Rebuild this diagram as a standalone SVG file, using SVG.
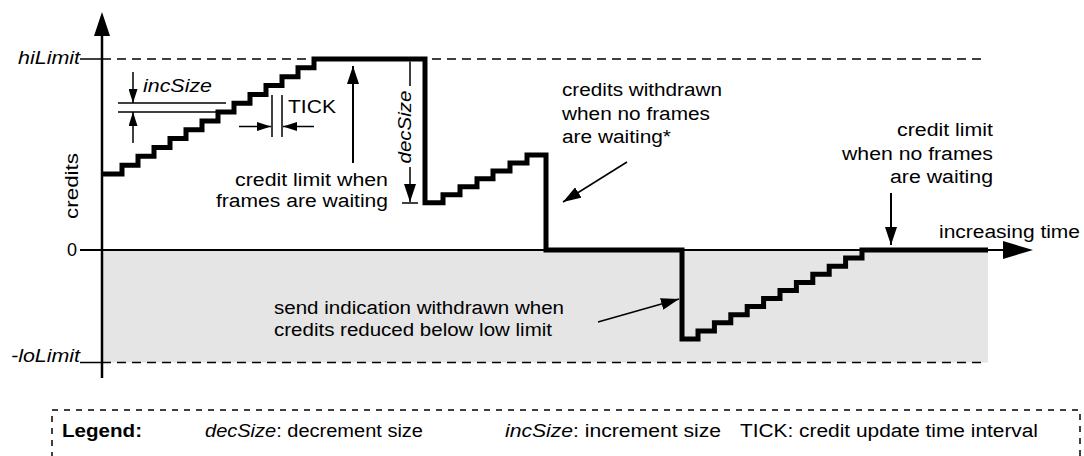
<svg xmlns="http://www.w3.org/2000/svg" width="1084" height="456" viewBox="0 0 1084 456">
<style>
text{font-family:"Liberation Sans",Arial,Helvetica,sans-serif;font-size:18px;fill:#000}
.it{font-style:italic}
.b{font-weight:bold}
.thin{stroke:#000;stroke-width:1.5;fill:none}
.ax{stroke:#000;stroke-width:2.5;fill:none}
.dash{stroke:#000;stroke-width:1.5;stroke-dasharray:9 6;fill:none}
.step{stroke:#000;stroke-width:5;fill:none;stroke-linejoin:miter;stroke-linecap:butt}
.lg{stroke:#000;stroke-width:1.5;stroke-dasharray:6 6;fill:none}
</style>
<defs>
<marker id="ah" viewBox="0 0 18 12" markerWidth="18" markerHeight="12" refX="18" refY="6" orient="auto" markerUnits="userSpaceOnUse"><path d="M0,0 L18,6 L0,12 z" fill="#000"/></marker>
<marker id="as" viewBox="0 0 14 9" markerWidth="14" markerHeight="9" refX="14" refY="4.5" orient="auto" markerUnits="userSpaceOnUse"><path d="M0,0 L14,4.5 L0,9 z" fill="#000"/></marker>
</defs>
<rect width="1084" height="456" fill="#fff"/>
<g id="negative-region"><rect x="102" y="250" width="886" height="112.5" fill="#e5e5e5"/></g>
<g id="axes">
<line class="thin" x1="80" y1="59" x2="102" y2="59"/>
<line class="dash" x1="102" y1="59" x2="986" y2="59"/>
<line class="thin" x1="80" y1="362.5" x2="102" y2="362.5"/>
<line class="dash" x1="102" y1="362.5" x2="986" y2="362.5"/>
<line class="ax" x1="80" y1="250" x2="1005" y2="250" style="stroke-width:2"/>
<polygon points="1033,250 1003,241 1003,259" fill="#000"/>
<line class="ax" x1="102" y1="34" x2="102" y2="378"/>
<polygon points="102,12 94,36 110,36" fill="#000"/>
</g>
<g id="axis-labels">
<text class="it" x="80" y="64" text-anchor="end" textLength="62" lengthAdjust="spacingAndGlyphs">hiLimit</text>
<text x="77" y="256" text-anchor="end">0</text>
<text class="it" x="80" y="362" text-anchor="end" textLength="69" lengthAdjust="spacingAndGlyphs">-loLimit</text>
<text transform="translate(78,186) rotate(-90)" text-anchor="middle" textLength="66" lengthAdjust="spacingAndGlyphs">credits</text>
<text x="939" y="238" textLength="141" lengthAdjust="spacingAndGlyphs">increasing time</text>
</g>
<g id="credit-curve">
<path class="step" d="M102,174 H122 V165.15 H138 V156.3 H154 V147.5 H170 V138.6 H186 V129.8 H202 V120.9 H218 V112.1 H234 V103.2 H250 V94.4 H266 V85.5 H282 V76.7 H298 V67.8 H314 V59 H425 V202.7 H443 V194.75 H460 V186.8 H477 V178.85 H493 V170.9 H510 V162.95 H527 V155 H546 V250 H682 V339 H698 V330.9 H714.4 V322.8 H730.8 V314.7 H747.2 V306.6 H763.6 V298.5 H780 V290.5 H796.4 V282.4 H812.8 V274.3 H829.2 V266.2 H845.6 V258.1 H862 V250 H988"/>
</g>
<g id="incSize">
<line class="thin" x1="118" y1="103" x2="226" y2="103"/>
<line class="thin" x1="118" y1="112" x2="226" y2="112"/>
<text class="it" x="143" y="92" textLength="69" lengthAdjust="spacingAndGlyphs">incSize</text>
</g>
<g id="tick">
<line class="thin" x1="272" y1="95" x2="272" y2="137"/>
<line class="thin" x1="282" y1="95" x2="282" y2="137"/>
<text x="288" y="113" textLength="48" lengthAdjust="spacingAndGlyphs">TICK</text>
</g>
<g id="decSize">
<line class="thin" x1="410" y1="61.5" x2="410" y2="86"/>
<line class="thin" x1="402" y1="203" x2="418" y2="203"/>
<text class="it" transform="translate(411,127) rotate(-90)" text-anchor="middle" textLength="73" lengthAdjust="spacingAndGlyphs">decSize</text>
</g>
<g id="label-limit-waiting">
<text x="388" y="186" text-anchor="end" textLength="153" lengthAdjust="spacingAndGlyphs">credit limit when</text>
<text x="388" y="207" text-anchor="end" textLength="172" lengthAdjust="spacingAndGlyphs">frames are waiting</text>
</g>
<g id="label-withdrawn">
<text x="562" y="96" textLength="160" lengthAdjust="spacingAndGlyphs">credits withdrawn</text>
<text x="562" y="120" textLength="148" lengthAdjust="spacingAndGlyphs">when no frames</text>
<text x="562" y="143" textLength="109" lengthAdjust="spacingAndGlyphs">are waiting*</text>
</g>
<g id="label-limit-idle">
<text x="993" y="136" text-anchor="end" textLength="96" lengthAdjust="spacingAndGlyphs">credit limit</text>
<text x="993" y="160" text-anchor="end" textLength="151" lengthAdjust="spacingAndGlyphs">when no frames</text>
<text x="993" y="183" text-anchor="end" textLength="103" lengthAdjust="spacingAndGlyphs">are waiting</text>
</g>
<g id="label-send">
<text x="274" y="314" textLength="290" lengthAdjust="spacingAndGlyphs">send indication withdrawn when</text>
<text x="274" y="336" textLength="278" lengthAdjust="spacingAndGlyphs">credits reduced below low limit</text>
</g>
<g id="connectors">
<line class="thin" x1="133" y1="72" x2="133" y2="103" marker-end="url(#as)"/>
<line class="thin" x1="133" y1="143" x2="133" y2="112" marker-end="url(#as)"/>
<line class="thin" x1="239" y1="126.5" x2="271" y2="126.5" marker-end="url(#as)"/>
<line class="thin" x1="314" y1="126.5" x2="283" y2="126.5" marker-end="url(#as)"/>
<line class="thin" x1="410" y1="167" x2="410" y2="202" marker-end="url(#ah)"/>
<line class="thin" x1="353" y1="163" x2="353" y2="66" marker-end="url(#ah)" style="stroke-width:2"/>
<line class="thin" x1="627" y1="162" x2="563" y2="202" marker-end="url(#ah)"/>
<line class="thin" x1="891" y1="193" x2="891" y2="245" marker-end="url(#ah)" style="stroke-width:2"/>
<line class="thin" x1="598" y1="322" x2="679" y2="299" marker-end="url(#ah)"/>
</g>
<g id="legend">
<rect class="lg" x="52" y="410" width="1028" height="70"/>
<text class="b" x="62" y="437" textLength="80" lengthAdjust="spacingAndGlyphs">Legend:</text>
<text x="205" y="437" textLength="218" lengthAdjust="spacingAndGlyphs"><tspan class="it">decSize</tspan>: decrement size</text>
<text x="505" y="437" textLength="216" lengthAdjust="spacingAndGlyphs"><tspan class="it">incSize</tspan>: increment size</text>
<text x="740" y="437" textLength="298" lengthAdjust="spacingAndGlyphs">TICK: credit update time interval</text>
</g>
</svg>
